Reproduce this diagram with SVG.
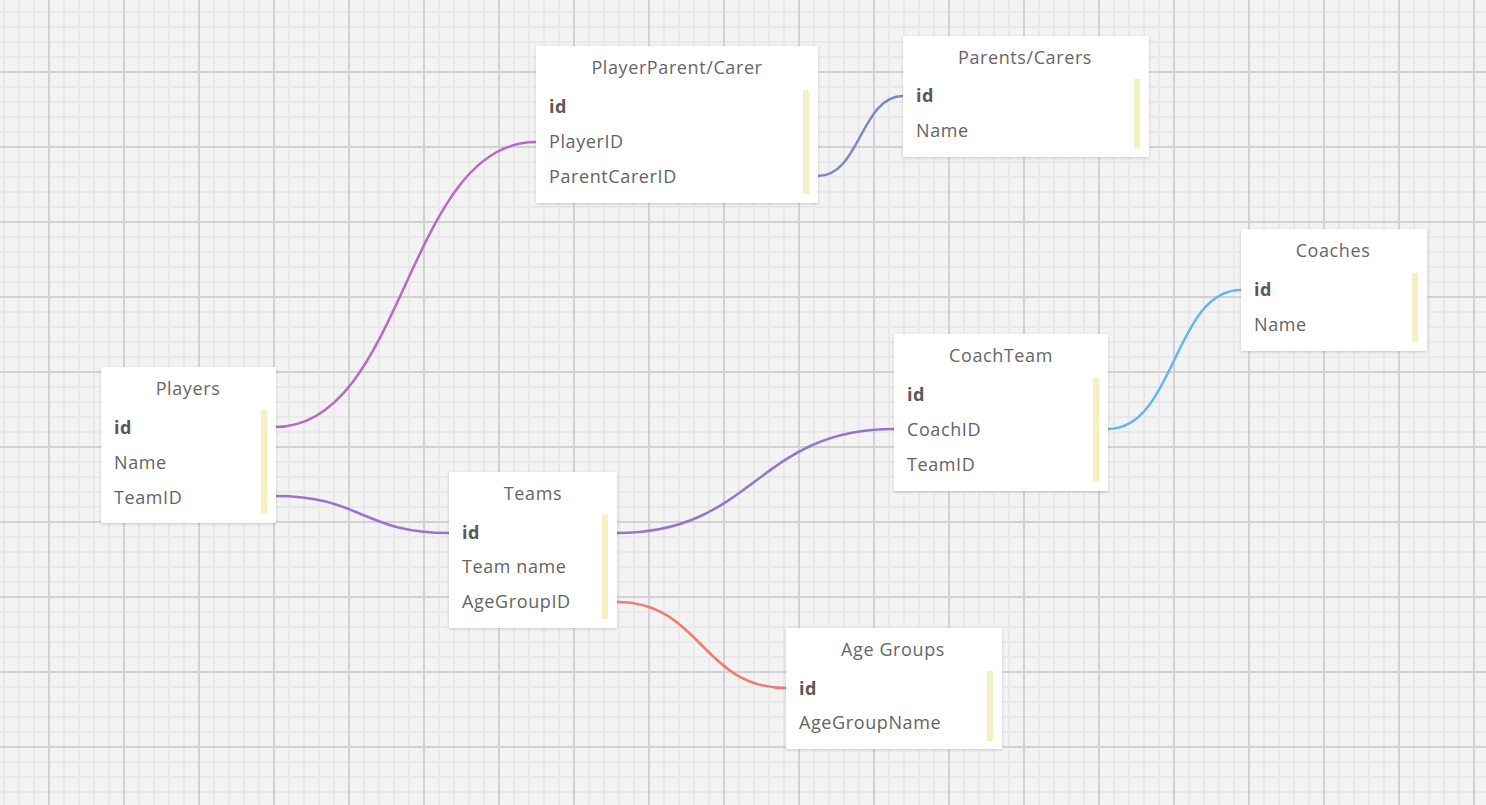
<svg xmlns="http://www.w3.org/2000/svg" width="1486" height="805" viewBox="0 0 1486 805">
<defs>
<pattern id="minor" x="3" y="11" width="15" height="15" patternUnits="userSpaceOnUse">
<rect x="0" y="0" width="2" height="15" fill="#e9e9e9"/>
<rect x="0" y="0" width="15" height="2" fill="#e9e9e9"/>
</pattern>
<pattern id="major" x="48" y="71" width="75" height="75" patternUnits="userSpaceOnUse">
<rect x="0" y="0" width="2" height="75" fill="#d2d2d2"/>
<rect x="0" y="0" width="75" height="2" fill="#d2d2d2"/>
</pattern>
<filter id="shadow" x="-10%" y="-10%" width="120%" height="125%">
<feDropShadow dx="0" dy="1" stdDeviation="1.5" flood-color="#000" flood-opacity="0.18"/>
</filter>
</defs>
<style>
.box{fill:#ffffff;filter:url(#shadow)}
.bar{fill:#f3f1c2}
.title{font-family:"Open Sans","Noto Sans",sans-serif;font-size:18px;letter-spacing:0.6px;fill:#666666;text-anchor:middle;dominant-baseline:central}
.field{font-family:"Open Sans","Noto Sans",sans-serif;font-size:18px;letter-spacing:0.6px;fill:#636363;dominant-baseline:central}
.key{font-weight:bold;fill:#585858}
.conn{fill:none;stroke-width:2.5;stroke-linecap:round}
</style>
<rect width="1486" height="805" fill="#f3f3f3"/>
<rect width="1486" height="805" fill="url(#minor)"/>
<rect width="1486" height="805" fill="url(#major)"/>

<g id="connectors">
<path class="conn" stroke="#ba68c8" d="M275 427 C405 427 406 142 536 142"/>
<path class="conn" stroke="#7986cb" d="M818 176 C860 176 861 96 903 96"/>
<path class="conn" stroke="#9575cd" d="M275 496 C362 496 362 533 449 533"/>
<path class="conn" stroke="#9575cd" d="M617 533 C755 533 756 429 894 429"/>
<path class="conn" stroke="#64b5f6" d="M1108 429 C1175 429 1174 290 1241 290"/>
<path class="conn" stroke="#f27a72" d="M617 602 C701 602 702 688 786 688"/>
</g>

<g id="players">
<rect class="box" x="101" y="367" width="175" height="156"/>
<text class="title" x="188" y="388">Players</text>
<rect class="bar" x="261" y="410" width="6" height="104"/>
<text class="field key" x="114" y="427">id</text>
<text class="field" x="114" y="462">Name</text>
<text class="field" x="114" y="497">TeamID</text>
</g>

<g id="playerparentcarer">
<rect class="box" x="536" y="46" width="282" height="157"/>
<text class="title" x="677" y="67">PlayerParent/Carer</text>
<rect class="bar" x="803" y="90" width="6" height="104"/>
<text class="field key" x="549" y="106">id</text>
<text class="field" x="549" y="141">PlayerID</text>
<text class="field" x="549" y="176">ParentCarerID</text>
</g>

<g id="parentscarers">
<rect class="box" x="903" y="36" width="246" height="121"/>
<text class="title" x="1025" y="57">Parents/Carers</text>
<rect class="bar" x="1134" y="79" width="6" height="69"/>
<text class="field key" x="916" y="95">id</text>
<text class="field" x="916" y="130">Name</text>
</g>

<g id="coaches">
<rect class="box" x="1241" y="229" width="186" height="122"/>
<text class="title" x="1333" y="250">Coaches</text>
<rect class="bar" x="1412" y="273" width="6" height="69"/>
<text class="field key" x="1254" y="289">id</text>
<text class="field" x="1254" y="324">Name</text>
</g>

<g id="coachteam">
<rect class="box" x="894" y="334" width="214" height="157"/>
<text class="title" x="1001" y="355">CoachTeam</text>
<rect class="bar" x="1093" y="378" width="6" height="104"/>
<text class="field key" x="907" y="394">id</text>
<text class="field" x="907" y="429">CoachID</text>
<text class="field" x="907" y="464">TeamID</text>
</g>

<g id="teams">
<rect class="box" x="449" y="472" width="168" height="156"/>
<text class="title" x="533" y="493">Teams</text>
<rect class="bar" x="602" y="515" width="6" height="104"/>
<text class="field key" x="462" y="532">id</text>
<text class="field" x="462" y="566">Team name</text>
<text class="field" x="462" y="601">AgeGroupID</text>
</g>

<g id="agegroups">
<rect class="box" x="786" y="628" width="216" height="121"/>
<text class="title" x="893" y="649">Age Groups</text>
<rect class="bar" x="987" y="671" width="6" height="70"/>
<text class="field key" x="799" y="688">id</text>
<text class="field" x="799" y="722">AgeGroupName</text>
</g>
</svg>
